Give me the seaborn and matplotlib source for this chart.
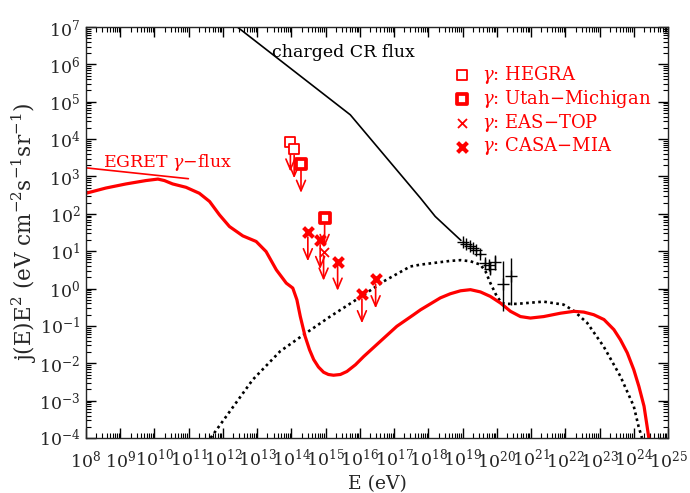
import numpy as np
import pandas as pd
import matplotlib
matplotlib.use("Agg")
import matplotlib.pyplot as plt
from matplotlib.ticker import LogLocator, NullFormatter, FixedLocator
import seaborn as sns

# ---------------- data (log10 of E [eV] and of j(E)E^2) ----------------
cr_logE = [12.42, 15.72, 17.77, 18.20, 18.95]
cr_logF = [7.00, 4.65, 2.42, 1.93, 1.29]

uhe_logE = [19.01, 19.11, 19.21, 19.31, 19.40, 19.51, 19.66, 19.76, 19.79, 19.96, 20.18, 20.40]
uhe_logF = [1.259, 1.198, 1.144, 1.083, 1.019, 0.930, 0.682, 0.636, 0.520, 0.710, 0.128, 0.323]
uhe_logHi = [1.30, 1.24, 1.18, 1.12, 1.06, 0.98, 0.78, 0.74, 0.64, 0.885, 0.725, 0.815]
uhe_logLo = [1.22, 1.16, 1.11, 1.05, 0.98, 0.88, 0.58, 0.53, 0.40, 0.500, -0.612, -0.433]

gam_logE = [8.00, 8.58, 9.17, 9.75, 10.10, 10.29, 10.53, 10.92, 11.31, 11.61, 11.90,
            12.19, 12.58, 12.97, 13.26, 13.56, 13.85, 14.04, 14.16, 14.26, 14.40, 14.53,
            14.65, 14.79, 14.94, 15.08, 15.23, 15.43, 15.62, 15.87, 16.11, 16.60, 17.08,
            17.57, 17.77, 18.06, 18.35, 18.64, 18.94, 19.23, 19.52, 19.81, 20.11, 20.40,
            20.69, 20.98, 21.37, 21.86, 22.25, 22.54, 22.83, 23.13, 23.42, 23.61, 23.81,
            24.00, 24.15, 24.30, 24.39, 24.44]
gam_logF = [2.55, 2.69, 2.80, 2.89, 2.93, 2.89, 2.80, 2.71, 2.55, 2.33, 1.97,
            1.66, 1.41, 1.26, 0.99, 0.50, 0.145, 0.013, -0.30, -0.75, -1.28, -1.64,
            -1.90, -2.10, -2.24, -2.30, -2.32, -2.30, -2.22, -2.04, -1.82, -1.41, -1.01,
            -0.70, -0.57, -0.41, -0.25, -0.14, -0.06, -0.03, -0.09, -0.21, -0.39, -0.61,
            -0.75, -0.79, -0.75, -0.66, -0.61, -0.63, -0.70, -0.83, -1.10, -1.37, -1.72,
            -2.17, -2.62, -3.15, -3.69, -4.00]

dot_logE = [11.64, 12.87, 13.67, 14.35, 15.13, 16.11, 16.69, 17.47, 17.77, 18.64, 18.94,
            19.23, 19.52, 19.67, 19.81, 20.00, 20.15, 20.30, 20.59, 21.36, 21.95, 22.24,
            22.64, 23.12, 23.61, 24.00, 24.14, 24.24]
dot_logF = [-4.00, -2.44, -1.68, -1.24, -0.75, -0.17, 0.19, 0.59, 0.64, 0.74, 0.76,
            0.73, 0.64, 0.46, 0.15, -0.21, -0.39, -0.41, -0.41, -0.35, -0.43, -0.59,
            -0.92, -1.55, -2.35, -3.15, -3.69, -4.00]

egret_logE = [8.00, 10.99]
egret_logF = [3.23, 2.94]

hegra_logE = [13.97, 14.08]
hegra_logF = [3.91, 3.73]
utah_logE = [14.28, 14.97]
utah_logF = [3.34, 1.89]
eastop_logE = [14.94]
eastop_logF = [0.99]
casa_logE = [14.48, 14.84, 15.35, 16.06, 16.46]
casa_logF = [1.51, 1.30, 0.72, -0.15, 0.25]

xtick_exps = list(range(8, 26))
ytick_exps = list(range(-4, 8))

def p10(a):
    return 10.0 ** np.asarray(a, dtype=float)

# ---------------- style ----------------
sns.set_style("ticks")
plt.rcParams["font.family"] = ["DejaVu Serif"]
plt.rcParams["mathtext.fontset"] = "dejavuserif"
plt.rcParams["axes.linewidth"] = 1.0
plt.rcParams["xtick.direction"] = "in"
plt.rcParams["ytick.direction"] = "in"

fig = plt.figure(figsize=(6.9, 4.93), dpi=100)
ax = fig.add_axes([86 / 690, 1 - 438 / 493, (668 - 86) / 690, (438 - 27) / 493])
ax.set_xscale("log")
ax.set_yscale("log")

RED = "#ff0000"

# curves
sns.lineplot(x=p10(cr_logE), y=p10(cr_logF), sort=False, estimator=None,
             color="black", lw=1.2, ax=ax)
sns.lineplot(x=p10(dot_logE), y=p10(dot_logF), sort=False, estimator=None,
             color="black", lw=1.9, linestyle=(0, (1.0, 1.3)), ax=ax)
sns.lineplot(x=p10(gam_logE), y=p10(gam_logF), sort=False, estimator=None,
             color=RED, lw=2.3, ax=ax)
sns.lineplot(x=p10(egret_logE), y=p10(egret_logF), sort=False, estimator=None,
             color=RED, lw=1.2, ax=ax)

# UHE cosmic ray data with error bars
F = p10(uhe_logF)
yerr = [F - p10(uhe_logLo), p10(uhe_logHi) - F]
ax.errorbar(p10(uhe_logE), F, yerr=yerr, fmt="+", color="black", ms=9, mew=1.0,
            elinewidth=1.0, capsize=0, zorder=3)

# upper limits: arrows
ARROW = 0.78
for lx, ly, sh in ([(a, b, 4.5) for a, b in zip(hegra_logE, hegra_logF)] +
                   [(a, b, 5.0) for a, b in zip(utah_logE, utah_logF)] +
                   [(a, b, 3.0) for a, b in zip(eastop_logE, eastop_logF)] +
                   [(a, b, 3.5) for a, b in zip(casa_logE, casa_logF)]):
    ax.annotate("", xy=(10 ** lx, 10 ** (ly - ARROW)), xytext=(10 ** lx, 10 ** ly),
                arrowprops=dict(arrowstyle="->,head_length=0.75,head_width=0.32",
                                color=RED, lw=1.2, shrinkA=sh, shrinkB=0), zorder=4)

sns.scatterplot(x=p10(hegra_logE), y=p10(hegra_logF), marker="s", s=50,
                facecolor="white", edgecolor=RED, linewidth=1.3,
                label=r"$\gamma$: HEGRA", ax=ax, zorder=5)
sns.scatterplot(x=p10(utah_logE), y=p10(utah_logF), marker="s", s=58,
                facecolor="white", edgecolor=RED, linewidth=2.7,
                label=r"$\gamma$: Utah−Michigan", ax=ax, zorder=5)
sns.scatterplot(x=p10(eastop_logE), y=p10(eastop_logF), marker="x", s=42,
                color=RED, linewidth=1.3, label=r"$\gamma$: EAS−TOP", ax=ax, zorder=5)
sns.scatterplot(x=p10(casa_logE), y=p10(casa_logF), marker="x", s=50,
                color=RED, linewidth=3.0, label=r"$\gamma$: CASA−MIA", ax=ax, zorder=5)

# annotations
ax.text(10 ** 13.44, 10 ** 6.33, "charged CR flux", fontsize=12.5, color="black",
        ha="left", va="center")
ax.text(10 ** 8.5, 10 ** 3.37, r"EGRET $\gamma$−flux", fontsize=12.5, color=RED,
        ha="left", va="center")

# axes
ax.set_xlim(1e8, 1e25)
ax.set_ylim(1e-4, 1e7)
ax.xaxis.set_major_locator(FixedLocator(p10(xtick_exps)))
ax.yaxis.set_major_locator(FixedLocator(p10(ytick_exps)))
ax.set_xticklabels([rf"$10^{{{e}}}$" for e in xtick_exps])
ax.set_yticklabels([rf"$10^{{{e}}}$" for e in ytick_exps])
ax.xaxis.set_minor_locator(LogLocator(base=10, subs=np.arange(2, 10), numticks=40))
ax.yaxis.set_minor_locator(LogLocator(base=10, subs=np.arange(2, 10), numticks=40))
ax.xaxis.set_minor_formatter(NullFormatter())
ax.yaxis.set_minor_formatter(NullFormatter())
ax.tick_params(which="both", direction="in", top=True, right=True, color="black")
ax.tick_params(which="major", length=7, width=1.0, labelsize=12.5)
ax.tick_params(which="minor", length=3.5, width=0.8)
ax.tick_params(axis="x", which="major", pad=8)
ax.tick_params(axis="y", which="major", pad=4)

ax.set_xlabel("E (eV)", fontsize=13.5, labelpad=3)
ax.set_ylabel(r"j(E)E$^2$ (eV cm$^{-2}$s$^{-1}$sr$^{-1}$)", fontsize=15.5, labelpad=0)

leg = ax.legend(loc="upper left", bbox_to_anchor=(0.631, 0.91), frameon=False,
                fontsize=13, labelcolor=RED, handlelength=1.0, handletextpad=0.6,
                borderaxespad=0, borderpad=0, labelspacing=0.1, scatterpoints=1)

fig.savefig("out.png", dpi=100)
